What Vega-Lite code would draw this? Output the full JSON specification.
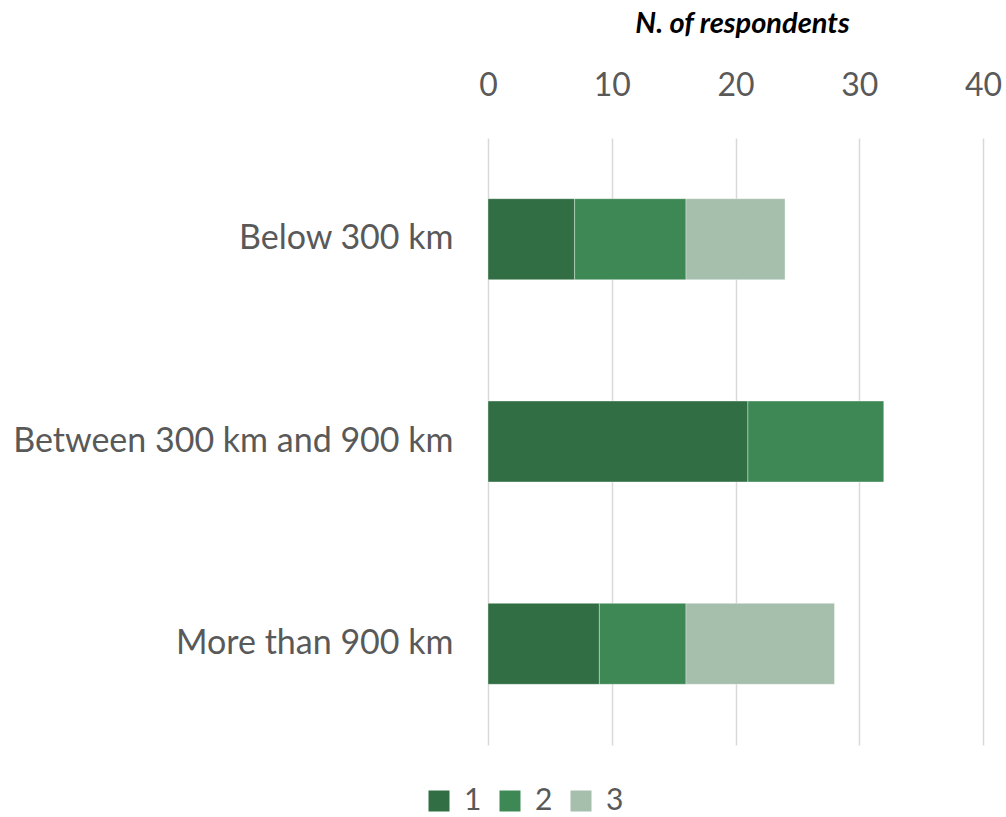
{
  "$schema": "https://vega.github.io/schema/vega-lite/v6.json",
  "width": 495,
  "height": 607,
  "autosize": {"type": "none"},
  "padding": {"left": 488, "top": 138, "right": 23, "bottom": 72},
  "background": "white",
  "data": {
    "values": [
      {"distance": "Below 300 km", "rank": "1", "n": 7},
      {"distance": "Below 300 km", "rank": "2", "n": 9},
      {"distance": "Below 300 km", "rank": "3", "n": 8},
      {"distance": "Between 300 km and 900 km", "rank": "1", "n": 21},
      {"distance": "Between 300 km and 900 km", "rank": "2", "n": 11},
      {"distance": "Between 300 km and 900 km", "rank": "3", "n": 0},
      {"distance": "More than 900 km", "rank": "1", "n": 9},
      {"distance": "More than 900 km", "rank": "2", "n": 7},
      {"distance": "More than 900 km", "rank": "3", "n": 12}
    ]
  },
  "config": {
    "view": {"stroke": null},
    "font": "Lato"
  },
  "mark": {"type": "bar", "stroke": "#ffffff", "strokeWidth": 0.6, "strokeOpacity": 0.6},
  "encoding": {
    "y": {
      "field": "distance",
      "type": "nominal",
      "sort": ["Below 300 km", "Between 300 km and 900 km", "More than 900 km"],
      "scale": {"paddingInner": 0.6, "paddingOuter": 0.3},
      "axis": {
        "title": null,
        "domain": false,
        "ticks": false,
        "labelFontSize": 34,
        "labelColor": "#595959",
        "labelPadding": 35,
        "labelLimit": 0
      }
    },
    "x": {
      "field": "n",
      "type": "quantitative",
      "stack": "zero",
      "scale": {"domain": [0, 40], "nice": false},
      "axis": {
        "orient": "top",
        "values": [0, 10, 20, 30, 40],
        "title": "N. of respondents",
        "titleFontSize": 29,
        "titleFontStyle": "italic",
        "titleFontWeight": "bold",
        "titleColor": "#000000",
        "titlePadding": 31,
        "titleX": 254,
        "domain": false,
        "ticks": false,
        "labelFontSize": 32,
        "labelColor": "#595959",
        "labelPadding": 36,
        "labelFlush": false,
        "grid": true,
        "gridColor": "#D9D9D9",
        "gridWidth": 1.5
      }
    },
    "color": {
      "field": "rank",
      "type": "nominal",
      "scale": {"domain": ["1", "2", "3"], "range": ["#316E43", "#3D8855", "#A6BEAC"]},
      "legend": {
        "title": null,
        "orient": "none",
        "direction": "horizontal",
        "legendX": -64,
        "legendY": 648,
        "symbolType": "square",
        "symbolSize": 441,
        "symbolStrokeWidth": 0,
        "labelFontSize": 30,
        "labelColor": "#595959",
        "labelOffset": 10,
        "columnPadding": 13
      }
    },
    "order": {"field": "rank", "type": "ordinal"}
  }
}
